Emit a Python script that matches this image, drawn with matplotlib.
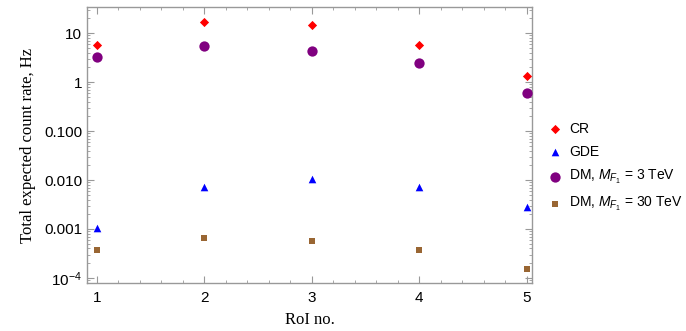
import matplotlib
matplotlib.use("Agg")
import matplotlib.pyplot as plt
from matplotlib.ticker import FixedLocator, FixedFormatter, MultipleLocator, LogLocator, NullFormatter

plt.rcParams["font.family"] = ["Liberation Sans", "DejaVu Sans"]
plt.rcParams["mathtext.fontset"] = "custom"
plt.rcParams["mathtext.rm"] = "Liberation Sans"
plt.rcParams["mathtext.it"] = "Liberation Sans:italic"

roi = [1, 2, 3, 4, 5]
cr = [5.7, 16.5, 14.6, 5.7, 1.3]
gde = [0.00106, 0.0073, 0.0105, 0.0073, 0.00285]
dm3 = [3.3, 5.4, 4.4, 2.4, 0.6]
dm30 = [0.00037, 0.00066, 0.00057, 0.00037, 0.000155]

ytick_vals = [1e-4, 1e-3, 1e-2, 1e-1, 1, 10]
ytick_labels = [r"$10^{-4}$", "0.001", "0.010", "0.100", "1", "10"]

fig = plt.figure(figsize=(6.86, 3.31), dpi=100)
ax = fig.add_axes([87/686, 1 - 283/331, (532-87)/686, (283-7)/331])

ax.scatter(roi, cr, marker="D", s=22, color="#ff0000", label="CR", zorder=3, linewidths=0)
ax.scatter(roi, gde, marker="^", s=30, color="#0000ff", label="GDE", zorder=3, linewidths=0)
ax.scatter(roi, dm3, marker="o", s=55, color="#800080", label=r"DM, $M_{F_1}$ = 3 TeV", zorder=3, linewidths=0)
ax.scatter(roi, dm30, marker="s", s=25, color="#996633", label=r"DM, $M_{F_1}$ = 30 TeV", zorder=3, linewidths=0)

ax.set_yscale("log")
ax.set_ylim(7.9e-5, 34)
ax.set_xlim(0.91, 5.05)

ax.yaxis.set_major_locator(FixedLocator(ytick_vals))
ax.yaxis.set_major_formatter(FixedFormatter(ytick_labels))
ax.yaxis.set_minor_locator(LogLocator(base=10, subs=range(2, 10), numticks=20))
ax.yaxis.set_minor_formatter(NullFormatter())
ax.xaxis.set_major_locator(FixedLocator(roi))
ax.xaxis.set_minor_locator(MultipleLocator(0.2))

for s in ax.spines.values():
    s.set_color("#999999")
    s.set_linewidth(1.0)
ax.tick_params(which="both", direction="in", top=True, right=True, color="#999999", labelsize=11, labelcolor="black")
ax.tick_params(which="major", length=5, width=0.8)
ax.tick_params(which="minor", length=2.5, width=0.6)
ax.tick_params(axis="x", pad=6)

ax.set_xlabel("RoI no.", family="Liberation Serif", fontsize=12, labelpad=5)
ax.set_ylabel("Total expected count rate, Hz", family="Liberation Serif", fontsize=12, labelpad=6)

leg = ax.legend(loc="upper left", bbox_to_anchor=(1.036, 0.583), frameon=False, fontsize=10,
                handletextpad=0.5, labelspacing=0.65, handlelength=1.0, borderpad=0, borderaxespad=0,
                scatterpoints=1)

fig.savefig("out.png", dpi=100)
